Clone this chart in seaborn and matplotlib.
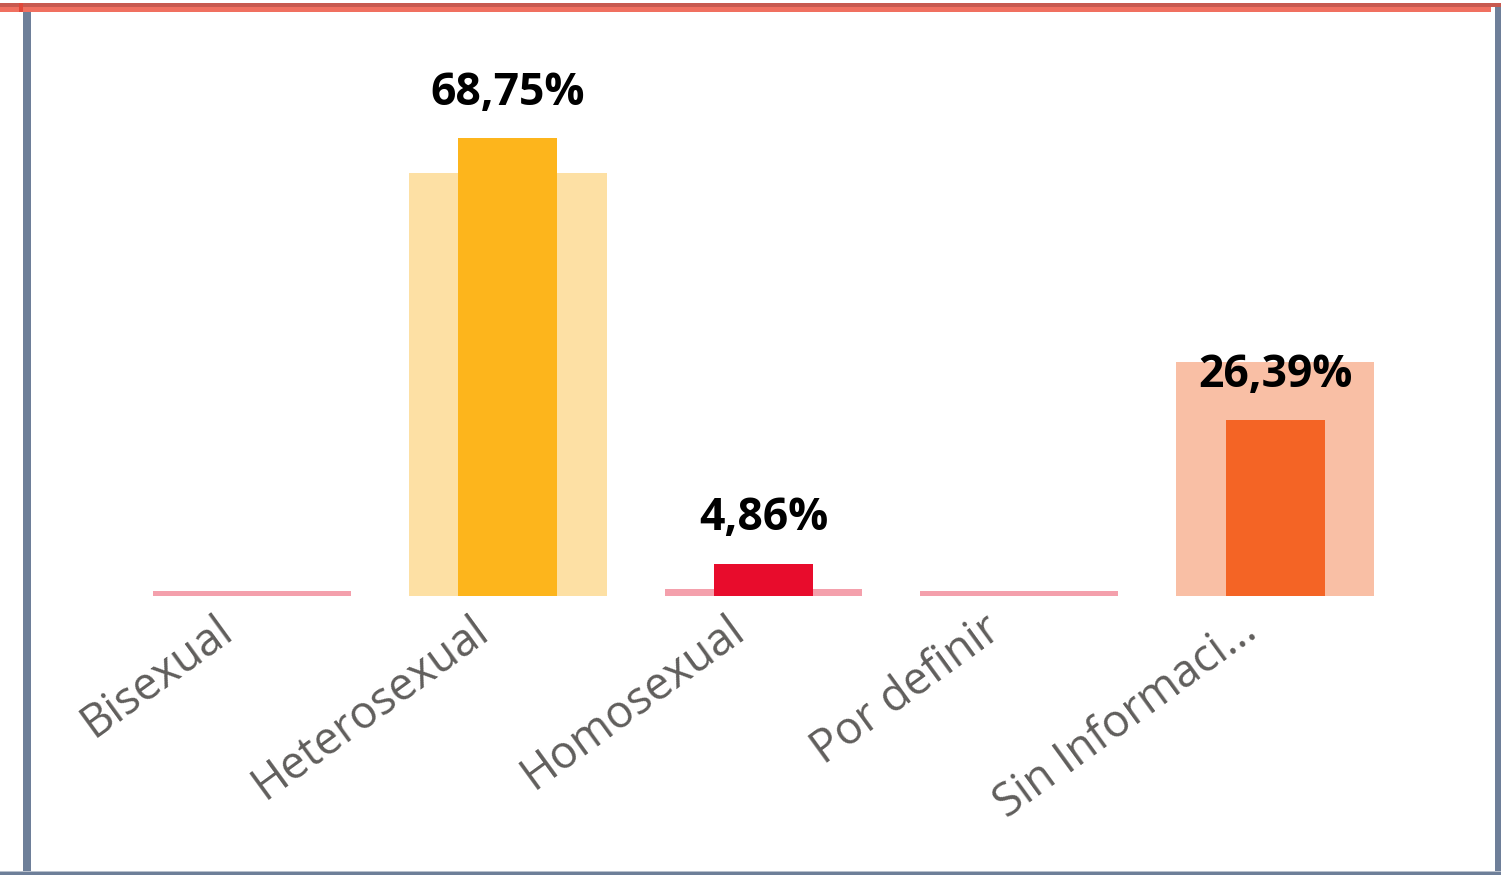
import matplotlib
matplotlib.use("Agg")
import matplotlib.pyplot as plt
from matplotlib.patches import Rectangle
from matplotlib.transforms import ScaledTranslation
import seaborn as sns
import pandas as pd

# Orientación sexual: valor actual (barra estrecha) y referencia (barra ancha de fondo)
categorias = ["Bisexual", "Heterosexual", "Homosexual", "Por definir", "Sin Informaci..."]
valor_actual = [0.0, 68.75, 4.86, 0.0, 26.39]
valor_referencia = [0.7, 63.5, 1.0, 0.7, 35.1]
etiquetas = ["", "68,75%", "4,86%", "", "26,39%"]

colores_actual = ["#F4A0AC", "#FDB51C", "#E80C2C", "#F4A0AC", "#F46425"]
colores_referencia = ["#F4A0AC", "#FDE0A4", "#F4A0AC", "#F4A0AC", "#F9BFA5"]

sns.set_theme(style="white")
plt.rcParams["font.family"] = ["Open Sans", "DejaVu Sans"]

df = pd.DataFrame({
    "categoria": categorias,
    "actual": valor_actual,
    "referencia": valor_referencia,
})

fig = plt.figure(figsize=(15.01, 8.75), dpi=100)
ax = fig.add_axes([124 / 1501, 1 - 596 / 875, 1279 / 1501, 533 / 875])

sns.barplot(data=df, x="categoria", y="referencia", hue="categoria",
            palette=colores_referencia, width=0.774, legend=False,
            saturation=1, linewidth=0, ax=ax)
sns.barplot(data=df, x="categoria", y="actual", hue="categoria",
            palette=colores_actual, width=0.387, legend=False,
            saturation=1, linewidth=0, ax=ax)

for i, (v, txt) in enumerate(zip(valor_actual, etiquetas)):
    if txt:
        ax.annotate(txt, (i, v), xytext=(0, 24), textcoords="offset points",
                    ha="center", va="baseline", fontsize=32,
                    fontweight="bold", color="black")

ax.set_xlim(-0.5, 4.5)
ax.set_ylim(0, 80)
ax.set_xlabel("")
ax.set_ylabel("")
ax.set_yticks([])
ax.tick_params(axis="x", length=0, pad=8)
shift = ScaledTranslation(-0.37, 0, fig.dpi_scale_trans)
for lbl in ax.get_xticklabels():
    lbl.set_rotation(36)
    lbl.set_ha("right")
    lbl.set_rotation_mode("anchor")
    lbl.set_fontsize(32.5)
    lbl.set_color("#605E5C")
    lbl.set_transform(lbl.get_transform() + shift)
for s in ax.spines.values():
    s.set_visible(False)

# Marco del visual
W, H = 1501, 875
def rect(x0, y0, x1, y1, color):
    fig.patches.append(Rectangle((x0 / W, 1 - y1 / H), (x1 - x0) / W, (y1 - y0) / H,
                                 transform=fig.transFigure, color=color, lw=0,
                                 zorder=10))

rect(0, 7, 1491, 12, "#F07060")
rect(0, 3, W, 7, "#C85A50")
rect(19, 3, 23, 12, "#E0483A")
rect(23, 12, 31, H, "#6E7F99")
rect(1495, 7, W, H, "#6E7F99")
rect(0, 871, W, 872, "#B8C0CC")
rect(0, 872, W, H, "#6E7F99")

fig.savefig("out.png", dpi=100)
